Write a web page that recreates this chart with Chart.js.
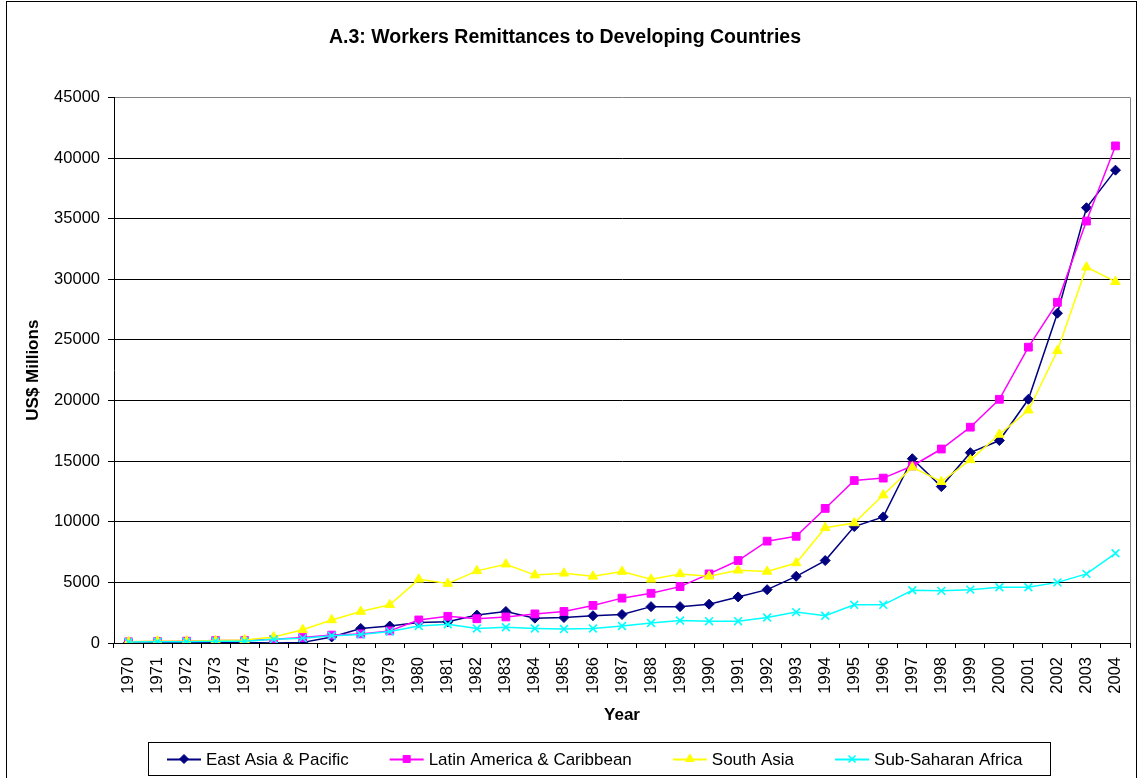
<!DOCTYPE html>
<html>
<head>
<meta charset="utf-8">
<script src="https://cdn.jsdelivr.net/npm/chart.js@4/dist/chart.umd.min.js"></script>
<style>
html,body{margin:0;padding:0;background:#fff;}
#wrap{width:1138px;height:778px;position:relative;}
canvas{display:block;}
</style>
</head>
<body>
<div id="wrap"><canvas id="c" width="1138" height="778"></canvas></div>
<script>
// ---- DATA ----
const years = ["1970","1971","1972","1973","1974","1975","1976","1977","1978","1979",
  "1980","1981","1982","1983","1984","1985","1986","1987","1988","1989",
  "1990","1991","1992","1993","1994","1995","1996","1997","1998","1999",
  "2000","2001","2002","2003","2004"];
const eastAsiaPacific = [50,50,50,50,50,0,50,500,1200,1400,
  1700,1750,2300,2600,2050,2100,2250,2350,3000,3000,
  3200,3800,4400,5500,6800,9600,10400,15200,12900,15700,
  16700,20100,27200,35900,39000];
const latinAmericaCaribbean = [100,120,150,200,200,300,450,650,750,1000,
  1900,2200,2000,2150,2400,2600,3100,3700,4100,4650,
  5700,6800,8400,8800,11100,13400,13600,14600,16000,17800,
  20100,24400,28100,34800,41000];
const southAsia = [100,150,150,200,250,500,1100,1900,2600,3150,
  5250,4900,5950,6500,5600,5750,5500,5900,5250,5700,
  5500,6000,5900,6600,9500,9900,12200,14500,13300,15100,
  17200,19200,24100,31000,29800];
const subSaharanAfrica = [80,100,100,150,150,300,400,600,700,950,
  1400,1550,1200,1300,1200,1150,1200,1400,1650,1850,
  1800,1800,2100,2550,2250,3150,3150,4350,4300,4400,
  4600,4600,5000,5700,7400];
const seriesNames = ["East Asia & Pacific","Latin America & Caribbean","South Asia","Sub-Saharan Africa"];
const yMin = 0, yMax = 45000, yStep = 5000;
const chartTitle = "A.3: Workers Remittances to Developing Countries";
const xTitle = "Year";
const yTitle = "US$ Millions";

// ---- STYLE ----
const FAM = '"Liberation Sans", Arial, Helvetica, sans-serif';

function drawMarker(ctx, style, r, x, y) {
  if (Chart.helpers && Chart.helpers.drawPoint) {
    Chart.helpers.drawPoint(ctx, {pointStyle: style, radius: r, borderWidth: ctx.lineWidth, rotation: 0}, x, y);
    return;
  }
  ctx.beginPath();
  if (style === 'rect') { const s = r*Math.SQRT1_2; ctx.rect(x-s,y-s,2*s,2*s); ctx.fill(); }
  else if (style === 'rectRot') { ctx.moveTo(x-r,y);ctx.lineTo(x,y-r);ctx.lineTo(x+r,y);ctx.lineTo(x,y+r);ctx.closePath();ctx.fill(); }
  else if (style === 'triangle') { ctx.moveTo(x,y-r);ctx.lineTo(x+r*0.866,y+r/2);ctx.lineTo(x-r*0.866,y+r/2);ctx.closePath();ctx.fill(); }
  else { const s=r*Math.SQRT1_2; ctx.moveTo(x-s,y-s);ctx.lineTo(x+s,y+s);ctx.moveTo(x+s,y-s);ctx.lineTo(x-s,y+s); }
  ctx.stroke();
}

const framePlugin = {
  id: 'frame',
  afterDraw(chart) {
    const ctx = chart.ctx, a = chart.chartArea;
    ctx.save();
    // outer frame
    ctx.strokeStyle = '#000'; ctx.lineWidth = 1;
    ctx.strokeRect(6.5, 1.5, 1130, 790);
    // right plot border
    ctx.strokeStyle = '#808080';
    ctx.beginPath();
    ctx.moveTo(Math.round(a.right)+0.5, a.top);
    ctx.lineTo(Math.round(a.right)+0.5, a.bottom);
    ctx.stroke();

    // legend
    ctx.font = '17px ' + FAM;
    ctx.textBaseline = 'middle';
    const y = 759;
    let mx = 184;
    let lastEnd = 0;
    chart.data.datasets.forEach(ds => {
      ctx.strokeStyle = ds.borderColor; ctx.lineWidth = 2;
      ctx.beginPath(); ctx.moveTo(mx-17, y+0.5); ctx.lineTo(mx+17, y+0.5); ctx.stroke();
      ctx.fillStyle = ds.pointBackgroundColor; ctx.strokeStyle = ds.pointBorderColor;
      ctx.lineWidth = ds.pointBorderWidth;
      drawMarker(ctx, ds.pointStyle, ds.pointRadius*0.9, mx, y);
      ctx.fillStyle = '#000';
      const tx = mx + 22;
      ctx.fillText(ds.label, tx, y+1);
      lastEnd = tx + ctx.measureText(ds.label).width;
      mx = lastEnd + 58;
    });
    ctx.strokeStyle = '#000'; ctx.lineWidth = 1;
    ctx.strokeRect(148.5, 742.5, Math.round(lastEnd + 28) - 148, 33);
    ctx.restore();
  }
};

function mk(label, data, color, style, radius, bw, order) {
  return {
    label, data, order,
    borderColor: color, backgroundColor: color,
    pointBackgroundColor: color, pointBorderColor: color,
    pointStyle: style, pointRadius: radius, pointBorderWidth: bw,
    pointHoverRadius: radius,
    borderWidth: 1.5, tension: 0, fill: false
  };
}

new Chart(document.getElementById('c'), {
  type: 'line',
  data: {
    labels: years,
    datasets: [
      mk(seriesNames[0], eastAsiaPacific, '#000080', 'rectRot', 5, 1, 3),
      mk(seriesNames[1], latinAmericaCaribbean, '#FF00FF', 'rect', 5.5, 1, 2),
      mk(seriesNames[2], southAsia, '#FFFF00', 'triangle', 5.5, 1, 1),
      mk(seriesNames[3], subSaharanAfrica, '#00FFFF', 'crossRot', 5.5, 1.6, 0)
    ]
  },
  options: {
    responsive: false,
    animation: false,
    devicePixelRatio: 1,
    layout: { padding: { top: 0, left: 0, right: 8, bottom: 52 } },
    plugins: {
      legend: { display: false },
      tooltip: { enabled: false },
      title: {
        display: true, text: chartTitle, color: '#000',
        font: { family: FAM, size: 19.5, weight: 'bold', lineHeight: 1.2 },
        padding: { top: 26, bottom: 48 }
      }
    },
    scales: {
      x: {
        type: 'category', offset: true,
        grid: { offset: true, drawOnChartArea: false, drawTicks: true, tickLength: 5, color: '#000' },
        border: { color: '#000', width: 1 },
        ticks: { minRotation: 90, maxRotation: 90, autoSkip: false, padding: 9, color: '#000',
                 font: { family: FAM, size: 16.5 } },
        title: { display: true, text: xTitle, color: '#000', padding: 0,
                 font: { family: FAM, size: 17, weight: 'bold', lineHeight: 1.2 } },
        afterFit(s) { s.height = 83; s.paddingLeft = 0; s.paddingRight = 0; }
      },
      y: {
        min: yMin, max: yMax,
        ticks: { stepSize: yStep, padding: 8, color: '#000', callback: v => String(v),
                 font: { family: FAM, size: 16.5 } },
        grid: { color: ctx => (ctx.tick && ctx.tick.value === yMax) ? '#808080' : '#000',
                tickColor: '#000', tickLength: 6, lineWidth: 1 },
        border: { color: '#000', width: 1 },
        title: { display: true, text: yTitle, color: '#000', padding: { top: 23, bottom: 23 },
                 font: { family: FAM, size: 17, weight: 'bold', lineHeight: 1.2 } },
        afterFit(s) { s.width = 114; s.paddingTop = 0; s.paddingBottom = 0; }
      }
    }
  },
  plugins: [framePlugin]
});
</script>
</body>
</html>
